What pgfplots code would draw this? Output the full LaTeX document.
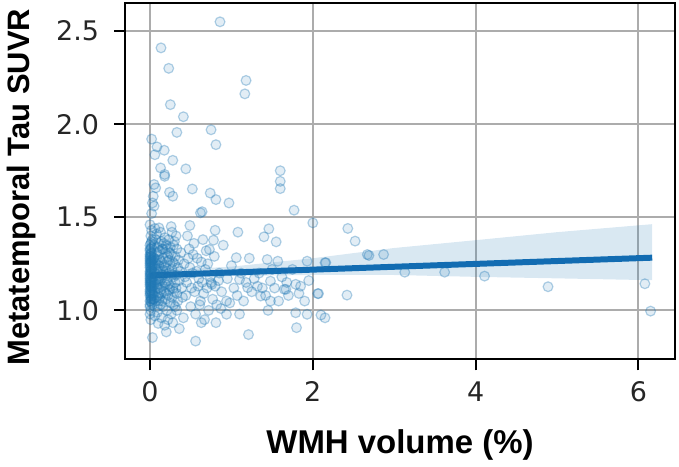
\documentclass[border=0pt]{standalone}
\usepackage{pgfplots}
\pgfplotsset{compat=1.18}
\usepackage{fontspec}
\setmainfont{DejaVu Sans}
\newfontfamily\labfont{Liberation Sans}
\definecolor{c0}{HTML}{1F77B4}
\definecolor{cline}{RGB}{18,108,178}
\begin{document}
\begin{tikzpicture}
\begin{axis}[
  width=275.5pt, height=178.5pt, scale only axis,
  xmin=-0.307, xmax=6.45, ymin=0.737, ymax=2.651,
  xtick={0,2,4,6}, ytick={1.0,1.5,2.0,2.5},
  /pgf/number format/assume math mode=true,
  tick label style={font=\fontsize{13.5}{15}\selectfont, text=black!85},
  yticklabel style={/pgf/number format/fixed, /pgf/number format/fixed zerofill, /pgf/number format/precision=1, xshift=-4pt},
  xticklabel style={yshift=-2pt},
  xtick pos=bottom, ytick pos=left, tick align=outside,
  major tick length=5.5pt,
  tick style={black, line width=1pt},
  axis line style={black, line width=1pt},
  grid=major, major grid style={gray!65, line width=1pt},
  xlabel={WMH volume (\%)}, ylabel={Metatemporal Tau SUVR},
  label style={font=\labfont\bfseries\fontsize{15.5}{18}\selectfont},
  xlabel style={at={(axis description cs:0.5,-0.24)}, anchor=center, font=\labfont\bfseries\fontsize{16.5}{18}\selectfont},
  ylabel style={at={(axis description cs:-0.189,0.483)}, anchor=center, rotate=0},
  clip=false,
]
\addplot[only marks, mark=*, mark size=2.45pt,
  mark options={fill=c0, draw=c0, fill opacity=0.13, draw opacity=0.34, line width=0.6pt}]
  table[row sep=\\] {
x y\\
0.86 2.55\\ 0.135 2.41\\ 0.23 2.30\\ 1.18 2.235\\ 1.165 2.163\\ 0.25 2.105\\ 0.41 2.04\\ 0.75 1.97\\ 0.33 1.956\\ 0.81 1.89\\
0.02 1.92\\ 0.086 1.878\\ 0.175 1.86\\ 0.06 1.836\\ 0.28 1.806\\ 0.13 1.765\\ 0.44 1.76\\ 0.18 1.73\\ 1.6 1.75\\
0.18 1.72\\ 0.05 1.676\\ 0.07 1.658\\ 0.04 1.613\\ 0.03 1.577\\ 0.05 1.56\\ 0.52 1.652\\ 0.24 1.634\\ 0.28 1.613\\ 0.74 1.63\\
0.81 1.595\\ 0.97 1.577\\ 1.6 1.693\\ 1.6 1.654\\ 1.77 1.538\\ 0.62 1.524\\ 0.64 1.53\\ 2.0 1.47\\ 2.43 1.44\\ 2.52 1.372\\
2.69 1.295\\ 2.87 1.30\\ 0.11 1.443\\ 0.49 1.456\\ 0.8 1.43\\ 1.08 1.42\\ 1.46 1.438\\ 1.40 1.395\\ 1.55 1.368\\ 0.78 1.377\\
0.73 1.327\\ 1.06 1.283\\ 1.44 1.273\\ 1.57 1.264\\ 1.93 1.264\\ 2.15 1.256\\
0.75 1.149\\ 0.8 1.13\\ 1.1 1.166\\ 1.2 1.122\\ 1.32 1.13\\ 1.48 1.157\\ 1.65 1.113\\ 1.79 1.14\\ 1.83 1.091\\ 1.9 1.05\\
2.06 1.09\\ 2.42 1.082\\ 1.48 1.05\\ 1.36 1.077\\ 0.94 1.05\\ 1.79 0.987\\ 1.93 0.979\\ 2.1 0.975\\ 2.15 0.96\\ 1.8 0.907\\
1.21 0.87\\ 0.56 0.835\\ 0.03 0.854\\ 0.36 0.902\\ 0.63 0.934\\ 0.81 0.934\\ 0.94 0.979\\ 0.2 0.884\\ 0.28 0.934\\
3.13 1.205\\ 3.62 1.205\\ 4.11 1.184\\ 4.89 1.127\\ 6.08 1.143\\ 6.15 0.996\\
0.00 1.02\\ 0.01 1.05\\ 0.00 1.08\\ 0.02 1.10\\ 0.01 1.12\\ 0.00 1.14\\ 0.03 1.15\\ 0.01 1.17\\ 0.00 1.19\\ 0.02 1.20\\
0.01 1.22\\ 0.00 1.24\\ 0.03 1.25\\ 0.01 1.27\\ 0.00 1.29\\ 0.02 1.31\\ 0.01 1.33\\ 0.00 1.35\\ 0.02 1.37\\ 0.01 1.00\\
0.03 1.03\\ 0.02 1.06\\ 0.00 1.11\\ 0.04 1.13\\ 0.02 1.16\\ 0.00 1.21\\ 0.03 1.23\\ 0.01 1.26\\ 0.04 1.28\\ 0.00 1.32\\
0.03 1.09\\ 0.01 1.07\\ 0.00 1.17\\ 0.02 1.13\\ 0.01 1.19\\ 0.00 1.26\\ 0.02 1.04\\ 0.04 1.18\\ 0.01 1.40\\ 0.00 0.98\\
0.02 1.43\\ 0.03 1.38\\ 0.01 1.30\\ 0.00 1.05\\ 0.02 1.24\\ 0.04 1.08\\ 0.01 1.15\\ 0.03 1.21\\ 0.00 1.46\\ 0.02 1.52\\ 0.01 0.95\\
0.00 1.10\\ 0.01 1.13\\ 0.00 1.16\\ 0.02 1.18\\ 0.01 1.21\\ 0.00 1.23\\ 0.02 1.27\\ 0.01 1.09\\ 0.00 1.28\\ 0.02 1.34\\
0.00 1.03\\ 0.01 1.06\\ 0.00 1.09\\ 0.01 1.11\\ 0.00 1.13\\ 0.01 1.14\\ 0.00 1.15\\ 0.01 1.16\\ 0.00 1.18\\ 0.01 1.20\\
0.00 1.20\\ 0.01 1.23\\ 0.00 1.25\\ 0.01 1.25\\ 0.00 1.27\\ 0.01 1.29\\ 0.00 1.30\\ 0.01 1.31\\ 0.00 1.33\\ 0.01 1.36\\
0.02 1.08\\ 0.02 1.12\\ 0.02 1.15\\ 0.02 1.22\\ 0.02 1.26\\ 0.02 1.29\\ 0.03 1.18\\ 0.03 1.12\\ 0.03 1.27\\ 0.03 1.06\\
0.06 1.10\\ 0.08 1.25\\ 0.10 1.18\\ 0.12 1.32\\ 0.15 1.05\\ 0.07 1.38\\ 0.09 1.02\\ 0.11 1.12\\ 0.13 1.22\\ 0.16 1.28\\
0.18 1.15\\ 0.20 1.35\\ 0.22 1.08\\ 0.24 1.20\\ 0.26 1.30\\ 0.28 1.12\\ 0.30 1.25\\ 0.32 1.40\\ 0.34 1.05\\ 0.06 1.20\\
0.08 1.14\\ 0.10 1.30\\ 0.12 1.07\\ 0.14 1.17\\ 0.17 1.36\\ 0.19 1.23\\ 0.21 1.00\\ 0.23 1.27\\ 0.25 1.13\\ 0.27 1.42\\
0.29 1.18\\ 0.31 1.02\\ 0.33 1.33\\ 0.05 1.28\\ 0.07 1.05\\ 0.09 1.34\\ 0.11 1.24\\ 0.13 1.42\\ 0.15 1.19\\ 0.17 1.10\\
0.19 1.31\\ 0.21 1.16\\ 0.23 1.38\\ 0.25 1.04\\ 0.27 1.22\\ 0.29 1.35\\ 0.31 1.15\\ 0.33 1.09\\ 0.35 1.27\\ 0.06 0.97\\
0.08 1.41\\ 0.10 1.08\\ 0.12 1.16\\ 0.14 1.26\\ 0.16 1.02\\ 0.18 1.39\\ 0.20 1.21\\ 0.22 1.29\\ 0.24 1.11\\ 0.26 0.98\\
0.28 1.26\\ 0.30 1.37\\ 0.32 1.19\\ 0.34 1.23\\ 0.07 1.16\\ 0.09 1.21\\ 0.11 1.36\\ 0.13 1.03\\ 0.15 1.33\\ 0.17 1.24\\
0.19 1.06\\ 0.21 1.26\\ 0.23 1.14\\ 0.25 1.34\\ 0.27 1.07\\ 0.29 1.03\\ 0.31 1.29\\ 0.05 1.35\\ 0.08 1.07\\ 0.12 1.27\\
0.16 1.13\\ 0.20 1.09\\ 0.24 1.31\\ 0.28 1.19\\ 0.32 1.12\\ 0.10 0.93\\ 0.14 0.96\\ 0.18 0.92\\ 0.22 0.95\\ 0.26 1.45\\
0.06 1.44\\ 0.09 0.99\\ 0.13 1.11\\ 0.17 1.19\\ 0.21 1.33\\ 0.25 1.24\\ 0.29 1.10\\ 0.33 1.00\\ 0.36 1.16\\ 0.38 1.31\\
0.40 1.07\\ 0.37 1.21\\ 0.39 1.12\\ 0.05 1.15\\ 0.07 1.27\\ 0.09 1.12\\ 0.11 1.05\\ 0.14 1.37\\ 0.16 1.21\\ 0.19 1.14\\
0.06 1.24\\ 0.08 1.31\\ 0.10 1.14\\ 0.12 1.21\\ 0.14 1.09\\ 0.16 1.33\\ 0.05 1.06\\ 0.07 1.22\\ 0.09 1.27\\ 0.11 1.17\\
0.42 1.25\\ 0.45 1.15\\ 0.48 1.33\\ 0.50 1.02\\ 0.52 1.20\\ 0.55 1.10\\ 0.58 1.28\\ 0.60 1.17\\ 0.62 1.05\\ 0.65 1.38\\
0.68 1.22\\ 0.70 1.12\\ 0.72 1.00\\ 0.44 1.08\\ 0.46 1.40\\ 0.49 1.23\\ 0.53 1.30\\ 0.56 0.98\\ 0.59 1.13\\ 0.63 1.26\\
0.66 1.09\\ 0.69 1.32\\ 0.74 1.18\\ 0.77 1.06\\ 0.41 0.96\\ 0.43 1.18\\ 0.47 1.28\\ 0.51 1.12\\ 0.54 1.36\\ 0.57 1.21\\
0.61 1.03\\ 0.64 1.15\\ 0.67 0.95\\ 0.71 1.25\\ 0.76 1.14\\ 0.79 1.29\\ 0.82 1.03\\ 0.85 1.20\\ 0.88 1.10\\ 0.90 1.35\\
0.84 1.16\\ 0.87 1.01\\
0.95 1.17\\ 1.00 1.24\\ 1.03 1.12\\ 1.07 1.08\\ 1.12 1.20\\ 1.15 1.05\\ 1.18 1.15\\ 1.22 1.28\\ 1.25 1.10\\ 1.28 1.17\\
1.34 1.20\\ 1.38 1.12\\ 1.42 1.08\\ 1.50 1.22\\ 1.53 1.12\\ 1.58 1.05\\ 1.62 1.18\\ 1.70 1.08\\ 1.75 1.22\\ 0.98 1.04\\
1.10 0.98\\ 1.45 1.00\\ 1.68 1.15\\ 1.85 1.13\\ 1.95 1.16\\ 2.67 1.30\\ 2.16 1.256\\ 1.67 1.113\\ 2.07 1.09\\
};
\addplot[fill=c0, fill opacity=0.17, draw=none] coordinates {
(0,1.21) (1,1.235) (2,1.28) (3,1.335) (4,1.377) (5,1.42) (6.17,1.463)
(6.17,1.162) (5,1.172) (4,1.18) (3,1.19) (2,1.19) (1,1.185) (0,1.165)
} -- cycle;
\addplot[cline, line width=3pt] coordinates {(0,1.188) (6.17,1.283)};
\path (rel axis cs:0,0) ++(-62pt,-52pt) coordinate (bl);
\path (rel axis cs:1,1) ++(2pt,1.5pt) coordinate (tr);
\end{axis}
\path (bl) rectangle (tr);
\end{tikzpicture}
\end{document}
